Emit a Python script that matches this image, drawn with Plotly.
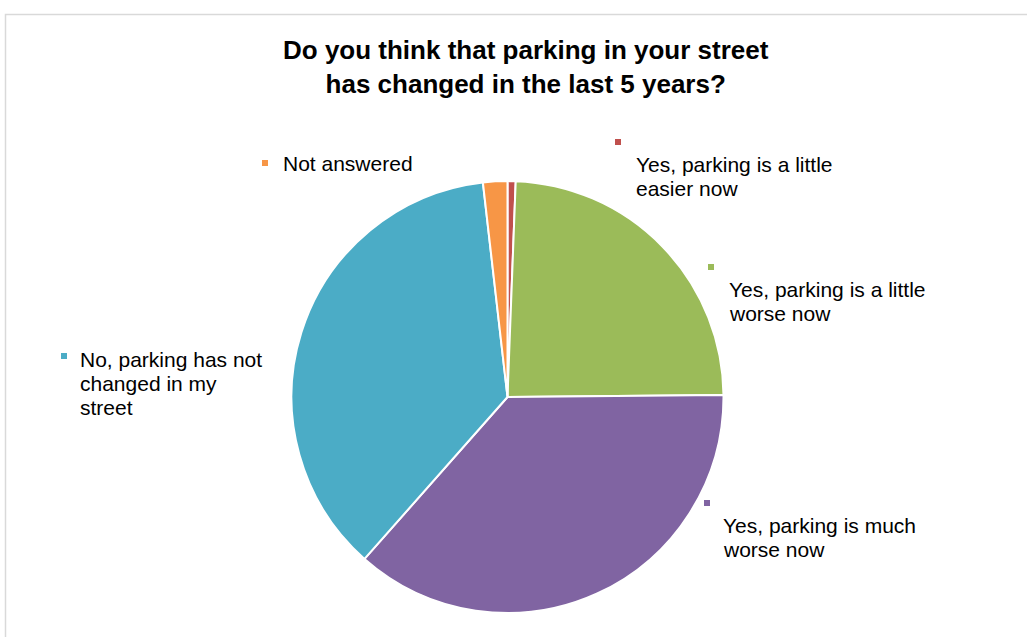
import plotly.graph_objects as go

W, H = 1027, 637

categories = [
    "Yes, parking is a little easier now",
    "Yes, parking is a little worse now",
    "Yes, parking is much worse now",
    "No, parking has not changed in my street",
    "Not answered",
]
values = [2, 80, 121, 121, 6]
colors = ["#C0504D", "#9BBB59", "#8064A2", "#4BACC6", "#F79646"]
label_lines = [
    ["Yes, parking is a little", "easier now"],
    ["Yes, parking is a little", "worse now"],
    ["Yes, parking is much", "worse now"],
    ["No, parking has not", "changed in my", "street"],
    ["Not answered"],
]
title_lines = ["Do you think that parking in your street", "has changed in the last 5 years?"]

# label layout (pixel positions): text left x, first baseline y, marker x, marker y
label_pos = [
    (636, 172, 615, 139),
    (729, 297, 708, 264),
    (723, 533, 704, 500),
    (80, 367, 61, 353),
    (283, 171, 262, 160),
]

FONT = "Liberation Sans, Arial, sans-serif"
LBL_SIZE = 21
LINE_GAP = 24


def px(x):
    return x / W


def py(y):
    return 1 - y / H


cx, cy, r = 507.5, 397, 216

fig = go.Figure(
    go.Pie(
        labels=categories,
        values=values,
        sort=False,
        direction="clockwise",
        rotation=0,
        marker=dict(colors=colors, line=dict(color="white", width=2)),
        textinfo="none",
        hoverinfo="label+percent",
        showlegend=False,
        domain=dict(x=[px(cx - 300), px(cx + 300)], y=[py(cy + r), py(cy - r)]),
    )
)

annotations = []
shapes = []
for lines, (tx, base, mx, my), col in zip(label_lines, label_pos, colors):
    for i, line in enumerate(lines):
        b = base + i * LINE_GAP
        annotations.append(
            dict(
                text=line, x=px(tx - 2), y=py(b - 7.5), xref="paper", yref="paper",
                xanchor="left", yanchor="middle", showarrow=False,
                font=dict(family=FONT, size=LBL_SIZE, color="#000000"),
            )
        )
    shapes.append(
        dict(type="rect", xref="paper", yref="paper",
             x0=px(mx), x1=px(mx + 6), y0=py(my + 6), y1=py(my),
             fillcolor=col, line=dict(width=0))
    )

annotations.append(
    dict(
        text="<b>" + "<br>".join(title_lines) + "</b>",
        x=px(526), y=py(67), xref="paper", yref="paper",
        xanchor="center", yanchor="middle", showarrow=False,
        font=dict(family=FONT, size=26, color="#000000"),
    )
)

shapes.append(
    dict(type="rect", xref="paper", yref="paper",
         x0=px(5.5), x1=px(1040), y0=py(660), y1=py(14.5),
         line=dict(color="#D9D9D9", width=1.5), fillcolor="rgba(0,0,0,0)", layer="below")
)

fig.update_layout(
    width=W, height=H,
    margin=dict(l=0, r=0, t=0, b=0),
    paper_bgcolor="white", plot_bgcolor="white",
    annotations=annotations, shapes=shapes,
)

fig.write_html("out.html")
